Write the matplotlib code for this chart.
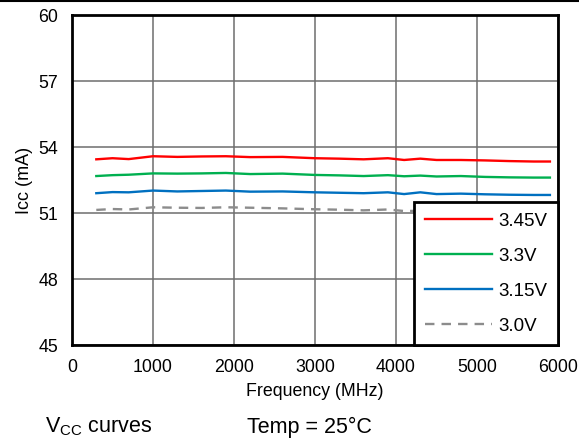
import matplotlib
matplotlib.use("Agg")
import matplotlib.pyplot as plt
from matplotlib.lines import Line2D

plt.rcParams['font.family'] = ['Liberation Sans', 'DejaVu Sans']

freq = [300, 500, 700, 1000, 1300, 1600, 1900, 2200, 2600, 3000, 3300, 3600,
        3900, 4100, 4300, 4500, 4800, 5100, 5400, 5700, 5900]
icc_345 = [53.44, 53.49, 53.45, 53.58, 53.55, 53.57, 53.58, 53.54, 53.55, 53.49, 53.47,
           53.44, 53.49, 53.41, 53.47, 53.41, 53.41, 53.39, 53.36, 53.34, 53.34]
icc_330 = [52.68, 52.72, 52.74, 52.80, 52.79, 52.80, 52.82, 52.77, 52.79, 52.73, 52.71,
           52.68, 52.72, 52.67, 52.70, 52.66, 52.68, 52.64, 52.62, 52.61, 52.61]
icc_315 = [51.90, 51.95, 51.94, 52.02, 51.98, 52.00, 52.02, 51.97, 51.98, 51.94, 51.92,
           51.90, 51.94, 51.86, 51.94, 51.86, 51.88, 51.85, 51.83, 51.82, 51.82]
icc_300 = [51.14, 51.18, 51.16, 51.26, 51.24, 51.23, 51.26, 51.24, 51.21, 51.17, 51.15,
           51.12, 51.16, 51.09, 51.10, 51.08, 51.08, 51.06, 51.05, 51.04, 51.04]
labels = ['3.45V', '3.3V', '3.15V', '3.0V']
xticks = [0, 1000, 2000, 3000, 4000, 5000, 6000]
yticks = [45, 48, 51, 54, 57, 60]

fig = plt.figure(figsize=(5.79, 4.42), dpi=100)
ax = fig.add_axes([72/579, 1-345/442, (558-72)/579, (345-15)/442])

ax.plot(freq, icc_345, color='#FF0000', lw=1.7, label=labels[0], zorder=3)
ax.plot(freq, icc_330, color='#00B050', lw=1.7, label=labels[1], zorder=3)
ax.plot(freq, icc_315, color='#0070C0', lw=1.7, label=labels[2], zorder=3)
ax.plot(freq, icc_300, color='#8C8C8C', lw=1.7, ls=(0, (4, 3)), label=labels[3], zorder=3)

ax.set_xlim(0, 6000)
ax.set_ylim(45, 60)
ax.set_xticks(xticks)
ax.set_yticks(yticks)
ax.tick_params(length=0, labelsize=12.8, pad=10)
ax.grid(True, color='#6e6e6e', lw=1.1)
ax.set_axisbelow(True)
for s in ax.spines.values():
    s.set_linewidth(2)
    s.set_color('black')

ax.set_xlabel('Frequency (MHz)', fontsize=12.8, labelpad=5)
ax.set_ylabel('Icc (mA)', fontsize=13, labelpad=4)

leg = ax.legend(loc='lower right', bbox_to_anchor=(1.0, 0.0), borderaxespad=0,
                fancybox=False, edgecolor='black', framealpha=1, fontsize=13.5,
                handlelength=3.6, labelspacing=0.95, borderpad=0.55, handletextpad=0.35)
leg.get_frame().set_linewidth(2)
leg.set_zorder(5)

fig.text(45/579, 1-427/442, 'V$_{\\mathregular{CC}}$ curves', fontsize=15.5, va='center', ha='left')
fig.text(247/579, 1-427/442, 'Temp = 25°C', fontsize=15.5, va='center', ha='left')

fig.add_artist(Line2D([0, 1], [0.998, 0.998], color='black', lw=1.5, transform=fig.transFigure))

fig.savefig('out.png', dpi=100)
